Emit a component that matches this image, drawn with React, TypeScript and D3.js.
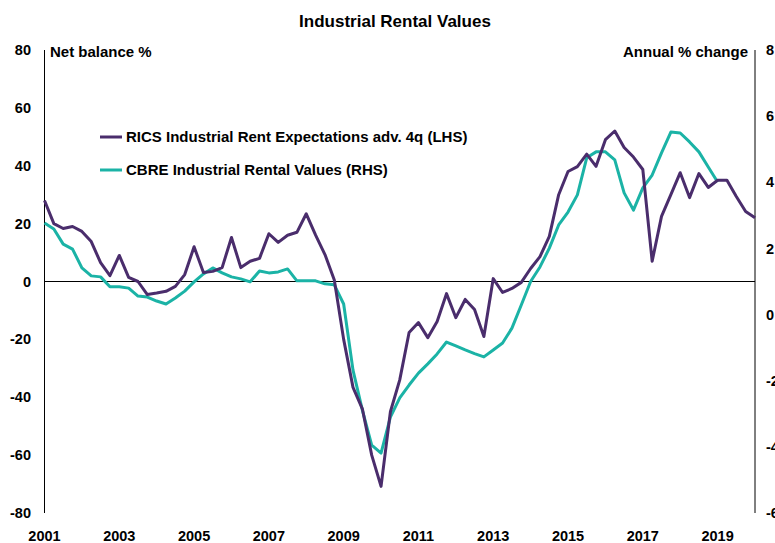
import React from "react";
import * as d3 from "d3";

const START_YEAR = 2001;
const ricsValues = [
  28, 20, 18.3, 19, 17.3, 13.8, 6.5, 2, 9, 1.4,
  0, -4.5, -4, -3.4, -1.7, 2.4, 12, 3.1, 3.5, 4.8,
  15.2, 4.8, 7, 8, 16.5, 13.5, 16, 17, 23.4, 16,
  9.3, 0.5, -20, -36.6, -44, -60, -70.8, -45, -34, -17.6,
  -14.2, -19.4, -13.8, -4.2, -12.5, -6.2, -9.7, -19, 1, -3.8,
  -2.4, -0.3, 4.5, 8.6, 15.6, 30, 38, 39.7, 44, 39.8,
  49, 52, 46.3, 43, 38.7, 7, 22.5, 30, 37.6, 29,
  37.3, 32.5, 35, 35, 29.4, 24.2, 22,
];
const cbreValues = [
  2.77, 2.59, 2.13, 1.98, 1.41, 1.17, 1.14, 0.84, 0.84, 0.8,
  0.56, 0.53, 0.41, 0.32, 0.5, 0.71, 0.99, 1.23, 1.41, 1.26,
  1.14, 1.08, 0.99, 1.32, 1.26, 1.29, 1.38, 1.02, 1.02, 1.02,
  0.93, 0.9, 0.32, -1.68, -2.89, -3.95, -4.19, -3.1, -2.52, -2.13,
  -1.77, -1.49, -1.19, -0.83, -0.95, -1.07, -1.18, -1.28, -1.07, -0.86,
  -0.41, 0.29, 1.0, 1.44, 2.01, 2.71, 3.1, 3.62, 4.74, 4.92,
  4.92, 4.68, 3.68, 3.16, 3.83, 4.22, 4.89, 5.52, 5.49, 5.22,
  4.92, 4.46, 4.01,
];
const xTickLabels = [2001, 2003, 2005, 2007, 2009, 2011, 2013, 2015, 2017, 2019];
const leftTicks = [80, 60, 40, 20, 0, -20, -40, -60, -80];
const rightTicks = [8, 6, 4, 2, 0, -2, -4, -6];
const seriesNames = [
  "RICS Industrial Rent Expectations adv. 4q (LHS)",
  "CBRE Industrial Rental Values (RHS)",
];
const title = "Industrial Rental Values";
const leftTitle = "Net balance %";
const rightTitle = "Annual % change";

const W = 775;
const H = 543;
const PL = 44.5;
const PR = 755;
const PT = 50;
const PB = 513;
const PURPLE = "#4a2d6c";
const TEAL = "#1bb3a6";
const FONT = "'Liberation Sans', Arial, sans-serif";

export default function App() {
  const x = d3.scaleLinear().domain([2001, 2020]).range([PL, PR]);
  const yL = d3.scaleLinear().domain([-80, 80]).range([PB, PT]);
  const yR = d3.scaleLinear().domain([-6, 8]).range([PB, PT]);

  const ricsLine = d3
    .line<number>()
    .x((_, i) => x(START_YEAR + i / 4))
    .y((d) => yL(d));
  const cbreLine = d3
    .line<number>()
    .x((_, i) => x(START_YEAR + i / 4))
    .y((d) => yR(d));

  return (
    <div style={{ position: "fixed", left: 0, top: 0 }}>
      <svg width={W} height={H} style={{ display: "block", background: "#fff" }} fontFamily={FONT}>
        <text x={395} y={27} textAnchor="middle" fontSize={17} fontWeight="bold" fill="#000">
          {title}
        </text>
        <line x1={PL} x2={PR} y1={yL(0)} y2={yL(0)} stroke="#000" strokeWidth={1} />
        <line x1={PL} x2={PL} y1={PT} y2={PB} stroke="#000" strokeWidth={1} />
        <line x1={PR} x2={PR} y1={PT} y2={PB} stroke="#000" strokeWidth={1} />
        {leftTicks.map((t) => (
          <text key={t} x={31} y={yL(t)} dy="0.35em" textAnchor="end" fontSize={14.5} fontWeight="bold">
            {t}
          </text>
        ))}
        {rightTicks.map((t) => (
          <text key={t} x={766} y={yR(t)} dy="0.35em" textAnchor="start" fontSize={14.5} fontWeight="bold">
            {t}
          </text>
        ))}
        {xTickLabels.map((t) => (
          <text key={t} x={x(t)} y={541} textAnchor="middle" fontSize={14.5} fontWeight="bold">
            {t}
          </text>
        ))}
        <text x={50} y={57} fontSize={15} fontWeight="bold">
          {leftTitle}
        </text>
        <text x={748} y={57} textAnchor="end" fontSize={15} fontWeight="bold">
          {rightTitle}
        </text>
        <path d={cbreLine(cbreValues) || ""} fill="none" stroke={TEAL} strokeWidth={3} strokeLinejoin="round" />
        <path d={ricsLine(ricsValues) || ""} fill="none" stroke={PURPLE} strokeWidth={3} strokeLinejoin="round" />
        <line x1={100} x2={122} y1={137} y2={137} stroke={PURPLE} strokeWidth={3} />
        <text x={126} y={137} dy="0.35em" fontSize={15} fontWeight="bold">
          {seriesNames[0]}
        </text>
        <line x1={100} x2={122} y1={170} y2={170} stroke={TEAL} strokeWidth={3} />
        <text x={126} y={170} dy="0.35em" fontSize={15} fontWeight="bold">
          {seriesNames[1]}
        </text>
      </svg>
    </div>
  );
}
